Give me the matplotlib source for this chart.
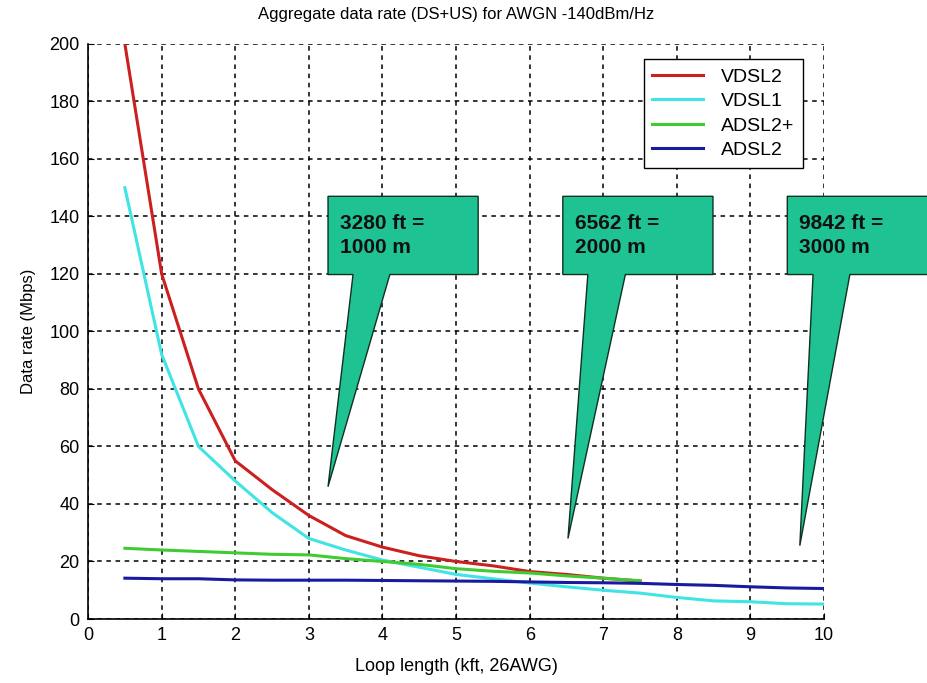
import matplotlib
matplotlib.use("Agg")
import matplotlib.pyplot as plt
from matplotlib.patches import Polygon

plt.rcParams['font.family'] = ['Liberation Sans', 'DejaVu Sans']

# Data
loop_kft = [0.5, 1.0, 1.5, 2.0, 2.5, 3.0, 3.5, 4.0, 4.5, 5.0, 5.5, 6.0, 6.5, 7.0, 7.5, 8.0, 8.5, 9.0, 9.5, 10.0]
vdsl2 = [200, 120, 80, 55, 45, 36, 29, 25, 22, 20, 18.5, 16.5, 15.5, 14.2, 13.2]
vdsl1 = [150, 92, 60, 48, 37, 28, 24, 20.5, 18, 15.5, 14, 12.5, 11.2, 10, 9, 7.5, 6.3, 6, 5.3, 5.2]
adsl2p = [24.6, 24, 23.5, 23, 22.5, 22.3, 21, 20, 19, 17.5, 16.6, 16, 15, 14.2, 13.3]
adsl2 = [14.2, 14, 14, 13.6, 13.5, 13.5, 13.5, 13.4, 13.3, 13.2, 13.1, 12.9, 12.7, 12.6, 12.4, 12.0, 11.7, 11.2, 10.8, 10.6]

series_names = ['VDSL2', 'VDSL1', 'ADSL2+', 'ADSL2']
series_values = [vdsl2, vdsl1, adsl2p, adsl2]
series_colors = ['#cc2020', '#40e4e4', '#40cc30', '#1a1aa0']

callout_labels = ['3280 ft =\n1000 m', '6562 ft =\n2000 m', '9842 ft =\n3000 m']

xticks = list(range(0, 11))
yticks = list(range(0, 201, 20))

fig = plt.figure(figsize=(9.27, 6.83), dpi=100)
ax = fig.add_axes([0.095, 0.0937, 0.794, 0.842])

for name, vals, col in zip(series_names, series_values, series_colors):
    ax.plot(loop_kft[:len(vals)], vals, color=col, lw=2.2, label=name, zorder=3)

ax.set_xlim(0, 10)
ax.set_ylim(0, 200)
ax.set_xticks(xticks)
ax.set_yticks(yticks)
ax.tick_params(labelsize=13, direction='in', length=4, pad=6)
ax.grid(True, color='black', linestyle=(0, (3, 3)), lw=1.1)
ax.spines['top'].set_visible(False)
ax.spines['right'].set_visible(False)
ax.spines['left'].set_linewidth(1.2)
ax.spines['bottom'].set_linewidth(1.2)

ax.set_title('Aggregate data rate (DS+US) for AWGN -140dBm/Hz', fontsize=12, pad=18)
ax.set_xlabel('Loop length (kft, 26AWG)', fontsize=13, labelpad=10)
ax.set_ylabel('Data rate (Mbps)', fontsize=12, labelpad=10)

leg = ax.legend(loc='upper right', bbox_to_anchor=(0.984, 0.99), fontsize=14,
                fancybox=False, edgecolor='black', framealpha=1, handlelength=2.6,
                labelspacing=0.35, borderpad=0.45, handletextpad=0.9)
leg.get_frame().set_linewidth(1.0)

# Callouts: (box x0, box x1, tail left, tail right, tip x, tip y)
callouts = [
    (3.26, 5.30, 3.6, 4.1, 3.26, 46),
    (6.45, 8.49, 6.79, 7.30, 6.52, 28),
    (9.50, 11.6, 9.85, 10.35, 9.67, 25.5),
]
yb, yt = 119.8, 147
for (x0, x1, tl, tr, tx, ty), lab in zip(callouts, callout_labels):
    poly = Polygon([(x0, yb), (tl, yb), (tx, ty), (tr, yb), (x1, yb), (x1, yt), (x0, yt)],
                   closed=True, facecolor='#1fc393', edgecolor='#103020', lw=1.0,
                   zorder=4, clip_on=False)
    ax.add_patch(poly)
    ax.text(x0 + 0.16, (yb + yt) / 2, lab, fontsize=15, fontweight='bold',
            color='#101010', va='center', ha='left', linespacing=1.35, zorder=5,
            clip_on=False)

fig.savefig('out.png', dpi=100)
